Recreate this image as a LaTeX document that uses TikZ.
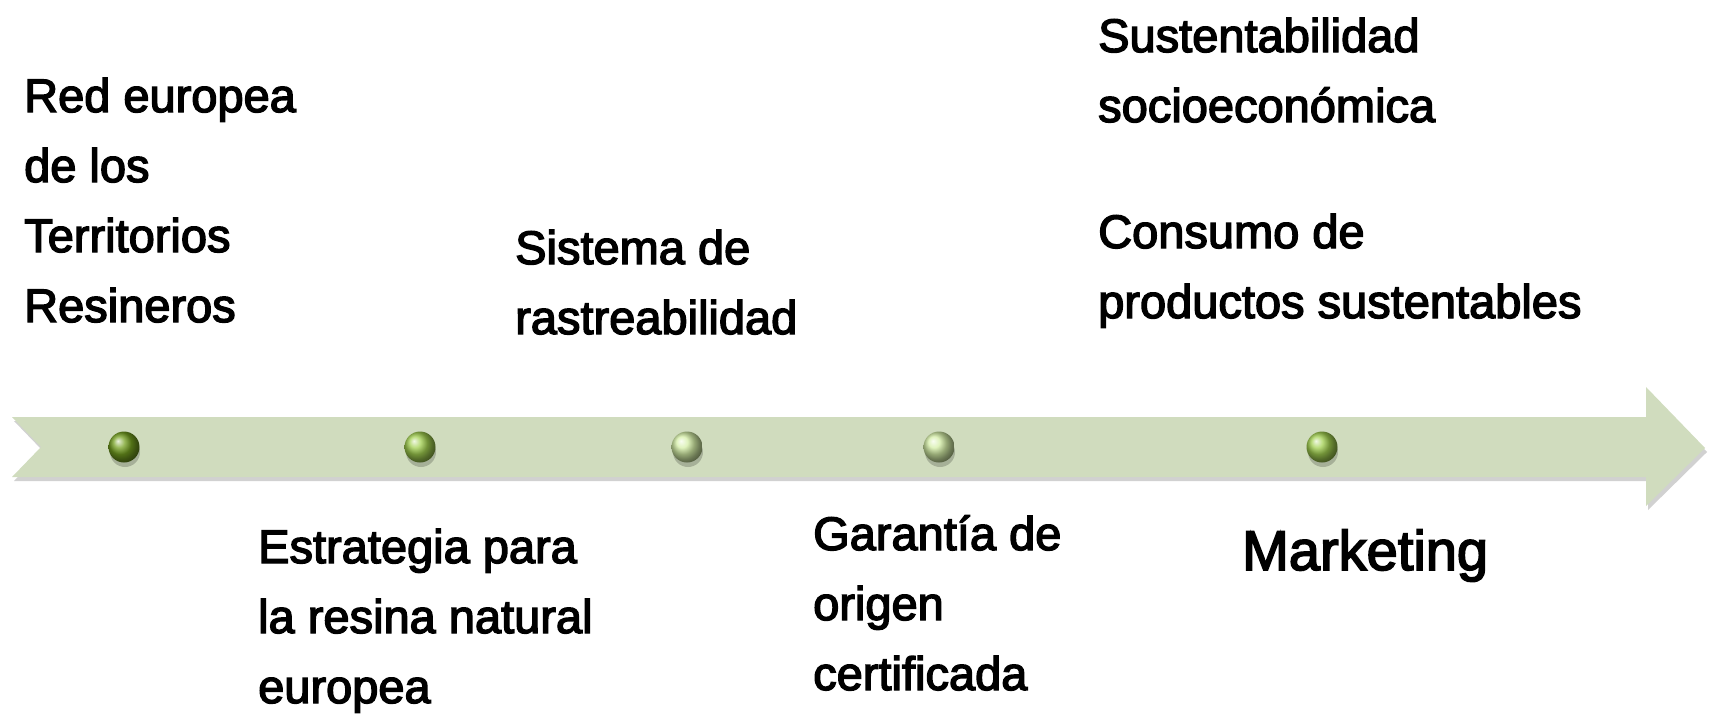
\documentclass[tikz,border=0pt]{standalone}
\usepackage{fontspec}
\setmainfont{Liberation Sans}[FakeBold=3]
\usepackage{tikz}
\usetikzlibrary{positioning}
\definecolor{bandgreen}{HTML}{D0DCBE}
\definecolor{dotdark}{HTML}{74A020}
\definecolor{dotmid}{HTML}{A2D050}
\definecolor{dotpale}{HTML}{D4EEA6}
\newcommand{\drawband}[2]{
	\fill[#1, shift={#2}] (12,417) -- (1646,417) -- (1646,387) -- (1705,448)
		-- (1646,506) -- (1646,477) -- (12,477) -- (41,447) -- cycle;
}

\begin{document}
\begin{tikzpicture}[x=1pt, y=-1pt,
		lbl/.style={anchor=base west, inner sep=0, align=left,
			font=\fontsize{47}{70}\selectfont},
		dot/.style={circle, minimum size=31pt, inner sep=0}]
		\useasboundingbox (0,0) rectangle (1716,713);
		% band with its shadow
		\drawband{black!30, opacity=0.6}{(2,4)}
		\drawband{bandgreen}{(0,0)}
		% dots
		\foreach \px/\col [count=\i] in {124/dotdark, 420/dotmid, 687/dotpale, 939/dotpale, 1322/dotmid} {
			\fill[black, opacity=0.2] (\px+1, 452) circle (15);
			\node[dot, ball color=\col] (d\i) at (\px, 447) {};
		}
		% labels above (anchored at the last line)
		\node[lbl] (red) at (24,322) {Red europea\\de los\\Territorios\\Resineros};
		\node[lbl] (sistema) at (515,334) {Sistema de\\rastreabilidad};
		\node[lbl] (sust) at (1098,122) {Sustentabilidad\\socioeconómica};
		\node[lbl] (consumo) at (1098,318) {Consumo de\\productos sustentables};
		% labels below
		\node[lbl] (estrategia) at (258,703) {Estrategia para\\la resina natural\\europea};
		\node[lbl] (garantia) at (813,690) {Garantía de\\origen\\certificada};
		\node[lbl, font=\fontsize{56}{70}\selectfont] (marketing) at (1242,570) {Marketing};
	\end{tikzpicture}
\end{document}
